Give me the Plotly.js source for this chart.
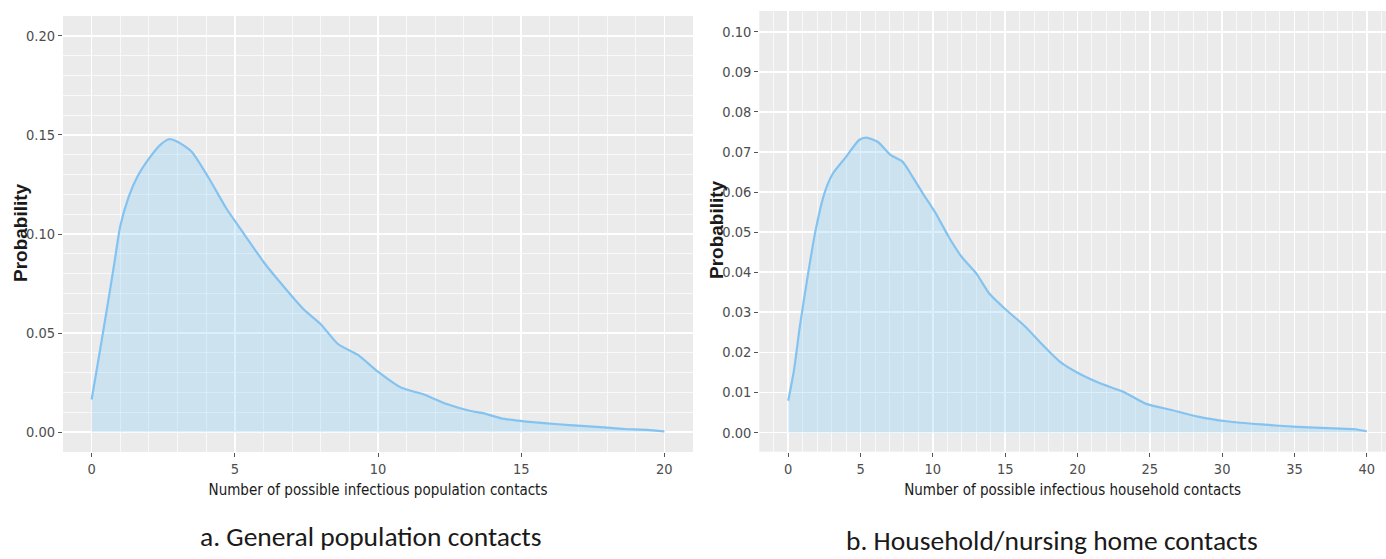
<!DOCTYPE html>
<html>
<head>
<meta charset="utf-8">
<script src="https://cdn.plot.ly/plotly-3.0.1.min.js"></script>
<style>
  html, body { margin: 0; padding: 0; background: #ffffff; }
  #chart { width: 1386px; height: 559px; }
</style>
</head>
<body>
<div id="chart"></div>
<script>
// Density of possible infectious contacts in the general population
const popContacts = [0, 0.3, 0.6, 0.8, 1.0, 1.3, 1.6, 2.0, 2.4, 2.7, 3.0, 3.5, 4.1, 4.7, 5.3, 6.0, 6.5, 7.4, 8.0, 8.6, 9.3, 10.0, 10.8, 11.6, 12.4, 13.2, 13.7, 14.3, 14.9, 15.5, 16.3, 17.1, 17.9, 18.6, 19.4, 20.0];
const popDensity  = [0.0165, 0.042, 0.068, 0.086, 0.104, 0.119, 0.129, 0.138, 0.145, 0.1478, 0.1466, 0.1414, 0.128, 0.113, 0.1005, 0.086, 0.077, 0.062, 0.0545, 0.0445, 0.039, 0.0305, 0.0225, 0.019, 0.0142, 0.0108, 0.0095, 0.007, 0.0058, 0.0049, 0.004, 0.0032, 0.0024, 0.0016, 0.0012, 0.0004];

// Density of possible infectious household / nursing home contacts
const hhContacts = [0, 0.4, 0.8, 1.3, 1.85, 2.5, 3.1, 4.0, 4.9, 5.4, 6.2, 7.1, 7.9, 8.6, 9.3, 10.2, 11.1, 12.0, 13.0, 13.9, 15.1, 16.4, 17.6, 18.8, 20.1, 21.6, 23.2, 24.7, 26.5, 28.4, 30.3, 32.7, 35.2, 37.7, 39.2, 40.0];
const hhDensity  = [0.0079, 0.0156, 0.0264, 0.038, 0.0497, 0.0597, 0.0647, 0.0688, 0.073, 0.0736, 0.0725, 0.0692, 0.0676, 0.0638, 0.0597, 0.0547, 0.0488, 0.0438, 0.0397, 0.0347, 0.0305, 0.0264, 0.0218, 0.0176, 0.0147, 0.0122, 0.0101, 0.0072, 0.0056, 0.0039, 0.0028, 0.002, 0.0014, 0.001, 0.0008, 0.0003];

const yTitle = 'Probability';
const xTitleA = 'Number of possible infectious population contacts';
const xTitleB = 'Number of possible infectious household contacts';
const captionA = 'a. General population contacts';
const captionB = 'b. Household/nursing home contacts';

const lineColor = '#84c3f0';
const fillColor = 'rgba(135,206,250,0.3)';
const narrow = '"Liberation Sans Narrow", "Arial Narrow", "DejaVu Sans Condensed", "Liberation Sans", sans-serif';
const tickFont = { family: narrow, size: 14.5, color: '#4d4d4d' };
const titleFont = { family: narrow, size: 15, color: '#1a1a1a' };
const yTitleFont = { family: '"Liberation Sans", Arial, sans-serif', size: 19, color: '#1a1a1a', weight: 'bold' };
const captionFont = { family: 'Carlito, Lato, "Open Sans", sans-serif', size: 27.5, color: '#1a1a1a' };

function densityTrace(x, y, xa, ya) {
  return {
    type: 'scatter', mode: 'lines', x: x, y: y, xaxis: xa, yaxis: ya,
    fill: 'tozeroy', fillcolor: fillColor,
    line: { color: lineColor, width: 2.2, shape: 'spline', smoothing: 0.6 },
    hoverinfo: 'x+y', showlegend: false
  };
}

const W = 1386, H = 559;
const px = v => v / W;
const py = v => (H - v) / H;

function xAxis(domain, range, title, anchor) {
  return {
    domain: domain, range: range, anchor: anchor,
    dtick: 5, tick0: 0, ticks: 'outside', ticklen: 4, tickwidth: 1, tickcolor: '#555555',
    tickfont: tickFont, showline: false, zeroline: false,
    showgrid: true, gridcolor: '#ffffff', gridwidth: 1.6,
    minor: { dtick: 1, showgrid: true, gridcolor: '#ffffff', gridwidth: 0.7, ticks: '' },
    title: { text: title, font: titleFont, standoff: 8 },
    automargin: false, fixedrange: true
  };
}

function yAxis(domain, range, dtick, minorDtick, anchor) {
  const ax = {
    domain: domain, range: range, anchor: anchor,
    dtick: dtick, tick0: 0, tickformat: '.2f',
    ticks: 'outside', ticklen: 4, tickwidth: 1, tickcolor: '#555555',
    tickfont: tickFont, showline: false, zeroline: false,
    showgrid: true, gridcolor: '#ffffff', gridwidth: 1.6,
    automargin: false, fixedrange: true
  };
  if (minorDtick) ax.minor = { dtick: minorDtick, showgrid: true, gridcolor: '#ffffff', gridwidth: 0.7, ticks: '' };
  return ax;
}

function label(text, x, y, font, angle) {
  return { text: text, xref: 'paper', yref: 'paper', x: px(x), y: py(y),
           xanchor: 'center', yanchor: 'middle', textangle: angle || 0,
           showarrow: false, font: font };
}

const data = [
  densityTrace(popContacts, popDensity, 'x', 'y'),
  densityTrace(hhContacts, hhDensity, 'x2', 'y2')
];

const layout = {
  width: W, height: H,
  margin: { l: 0, r: 0, t: 0, b: 0 },
  paper_bgcolor: '#ffffff',
  plot_bgcolor: '#ebebeb',
  showlegend: false,
  xaxis:  xAxis([px(63), px(693)], [-1, 21], xTitleA, 'y'),
  yaxis:  yAxis([py(452), py(16)], [-0.01, 0.21], 0.05, 0.01, 'x'),
  xaxis2: xAxis([px(759.3), 1], [-2, 41.33], xTitleB, 'y2'),
  yaxis2: yAxis([py(451.7), py(11)], [-0.0048, 0.1052], 0.01, null, 'x2'),
  annotations: [
    // rotated y-axis titles
    label(yTitle, 21, 233, yTitleFont, -90),
    label(yTitle, 716, 230, yTitleFont, -90),
    // panel captions
    label(captionA, 371, 536, captionFont),
    label(captionB, 1052, 540, captionFont)
  ]
};

Plotly.newPlot('chart', data, layout, { displayModeBar: false, staticPlot: true });
</script>
</body>
</html>
